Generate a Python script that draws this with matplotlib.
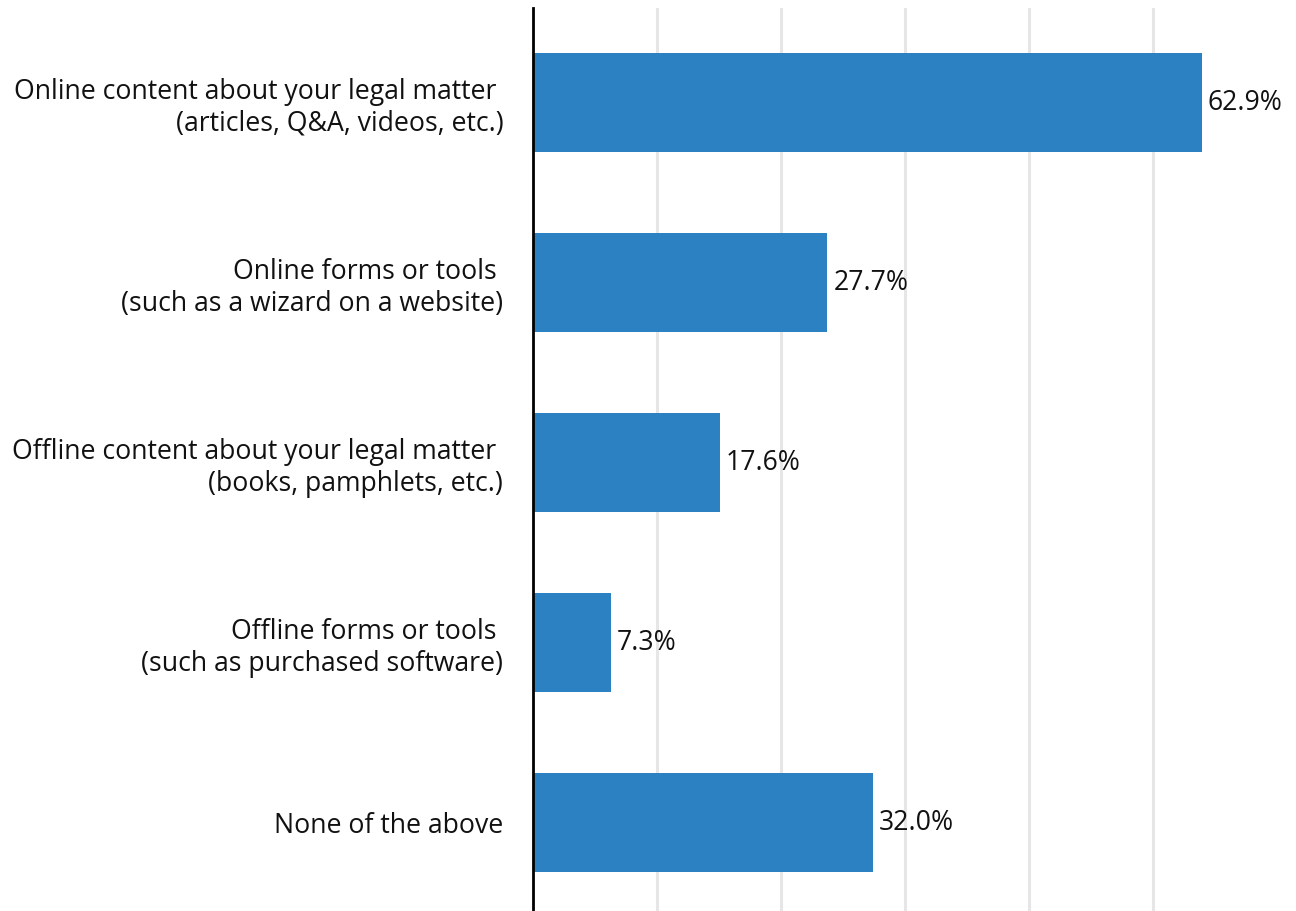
import matplotlib.pyplot as plt

plt.rcParams['font.family'] = ['Open Sans', 'DejaVu Sans']

# survey answers, top to bottom
categories = [
    "Online content about your legal matter \n(articles, Q&A, videos, etc.)",
    "Online forms or tools \n(such as a wizard on a website)",
    "Offline content about your legal matter \n(books, pamphlets, etc.)",
    "Offline forms or tools \n(such as purchased software)",
    "None of the above",
]
shares = [62.9, 27.7, 17.6, 7.3, 32.0]
value_labels = ["62.9%", "27.7%", "17.6%", "7.3%", "32.0%"]

W, H = 1296, 911
fig = plt.figure(figsize=(W / 100, H / 100), dpi=100)
ax = fig.add_axes([533 / W, 0, (1277 - 533) / W, 903 / H])

ypos = list(range(len(categories)))
bars = ax.barh(ypos, shares, height=0.55, color='#2b81c2', zorder=3)

for b, txt in zip(bars, value_labels):
    ax.text(b.get_width() + 0.55, b.get_y() + b.get_height() / 2, txt,
            va='center', ha='left', fontsize=19.2, color='#111111', clip_on=False)

ax.set_xlim(0, 70)
ax.set_ylim(4.49, -0.525)
ax.set_xticks([70 / 6 * k for k in range(1, 6)])
ax.set_xticklabels([])
ax.tick_params(axis='x', length=0)
ax.grid(axis='x', color='#e6e6e6', linewidth=2.2, zorder=0)

ax.set_yticks(ypos)
ax.set_yticklabels(categories, fontsize=19.2, color='#111111', linespacing=1.17)
ax.tick_params(axis='y', length=0, pad=21.5)

for side in ['top', 'right', 'bottom']:
    ax.spines[side].set_visible(False)
ax.spines['left'].set_linewidth(2)
ax.spines['left'].set_color('black')
ax.spines['left'].set_zorder(4)

fig.savefig('out.png', dpi=100)
